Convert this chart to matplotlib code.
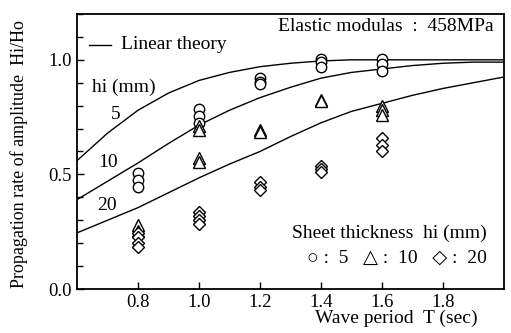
import matplotlib.pyplot as plt
from matplotlib.ticker import MultipleLocator

# linear theory curves
T_theory = [0.6, 0.7, 0.8, 0.9, 1.0, 1.1, 1.2, 1.3, 1.4, 1.5, 1.6, 1.7, 1.8, 1.9, 2.0]
theory_5 = [0.56, 0.68, 0.78, 0.855, 0.91, 0.945, 0.97, 0.985, 0.995, 1.0, 1.0, 1.0, 1.0, 1.0, 1.0]
theory_10 = [0.39, 0.47, 0.55, 0.635, 0.715, 0.78, 0.835, 0.88, 0.92, 0.945, 0.96, 0.975, 0.985, 0.99, 0.99]
theory_20 = [0.245, 0.30, 0.355, 0.42, 0.485, 0.545, 0.60, 0.665, 0.725, 0.775, 0.81, 0.845, 0.875, 0.90, 0.925]

# measured points
T_5 = [0.8, 0.8, 0.8, 1.0, 1.0, 1.0, 1.2, 1.2, 1.2, 1.4, 1.4, 1.4, 1.6, 1.6, 1.6]
H_5 = [0.505, 0.475, 0.445, 0.785, 0.755, 0.725, 0.92, 0.905, 0.895, 1.005, 0.99, 0.97, 1.005, 0.98, 0.95]
T_10 = [0.8, 0.8, 1.0, 1.0, 1.0, 1.0, 1.2, 1.2, 1.4, 1.4, 1.6, 1.6, 1.6]
H_10 = [0.28, 0.255, 0.71, 0.695, 0.57, 0.555, 0.695, 0.685, 0.825, 0.82, 0.80, 0.78, 0.76]
T_20 = [0.8, 0.8, 0.8, 0.8, 1.0, 1.0, 1.0, 1.0, 1.2, 1.2, 1.2, 1.4, 1.4, 1.4, 1.6, 1.6, 1.6]
H_20 = [0.245, 0.225, 0.20, 0.185, 0.335, 0.32, 0.30, 0.285, 0.465, 0.445, 0.43, 0.535, 0.525, 0.51, 0.66, 0.63, 0.60]

x_ticks = [0.8, 1.0, 1.2, 1.4, 1.6, 1.8]
y_ticks = [0.0, 0.5, 1.0]

plt.rcParams['font.family'] = ['Liberation Serif', 'DejaVu Serif']

fig = plt.figure(figsize=(5.11, 3.33), dpi=100)
ax = fig.add_axes([0.1507, 0.1321, 0.8353, 0.8259])

for curve in (theory_5, theory_10, theory_20):
    ax.plot(T_theory, curve, color='black', lw=1.0)

mk = dict(linestyle='none', markerfacecolor='white', markeredgecolor='black',
          markeredgewidth=1.0, color='black')
ax.plot(T_5, H_5, marker='o', markersize=7.5, **mk)
ax.plot(T_10, H_10, marker='^', markersize=8, **mk)
ax.plot(T_20, H_20, marker='D', markersize=6, **mk)

ax.set_xlim(0.6, 2.0)
ax.set_ylim(0.0, 1.2)
ax.set_xticks(x_ticks)
ax.set_xticklabels(['%.1f' % t for t in x_ticks])
ax.set_yticks(y_ticks)
ax.set_yticklabels(['%.1f' % t for t in y_ticks])
ax.yaxis.set_minor_locator(MultipleLocator(0.1))
ax.tick_params(direction='in', labelsize=13.5, length=5, width=1)
ax.tick_params(which='minor', direction='in', length=4, width=1)
for s in ax.spines.values():
    s.set_linewidth(1.3)

# texts
ax.plot([0.64, 0.71], [1.065, 1.065], color='black', lw=1.0)
ax.text(0.745, 1.065, 'Linear theory', fontsize=14, va='center')
ax.text(1.965, 1.145, 'Elastic modulas  :  458MPa', fontsize=14, va='center', ha='right')
ax.text(0.65, 0.88, 'hi (mm)', fontsize=14, va='center')
ax.text(0.71, 0.76, '5', fontsize=14, va='center')
ax.text(0.67, 0.55, '10', fontsize=14, va='center')
ax.text(0.665, 0.365, '20', fontsize=14, va='center')
ax.text(1.945, 0.245, 'Sheet thickness  hi (mm)', fontsize=14, va='center', ha='right')
ax.text(1.945, 0.135, '\u25cb :  5   \u25b3 :  10   \u25c7 :  20', fontsize=14, va='center', ha='right')

ax.set_xlabel('Wave period  T (sec)', fontsize=14)
ax.xaxis.set_label_coords(0.939, -0.105)
ax.xaxis.label.set_horizontalalignment('right')
ax.xaxis.label.set_verticalalignment('center')
ax.set_ylabel('Propagation rate of amplitude  Hi/Ho', fontsize=13)
ax.yaxis.set_label_coords(-0.135, 0.49)
ax.yaxis.label.set_verticalalignment('center')

fig.savefig('out.png', dpi=100)
